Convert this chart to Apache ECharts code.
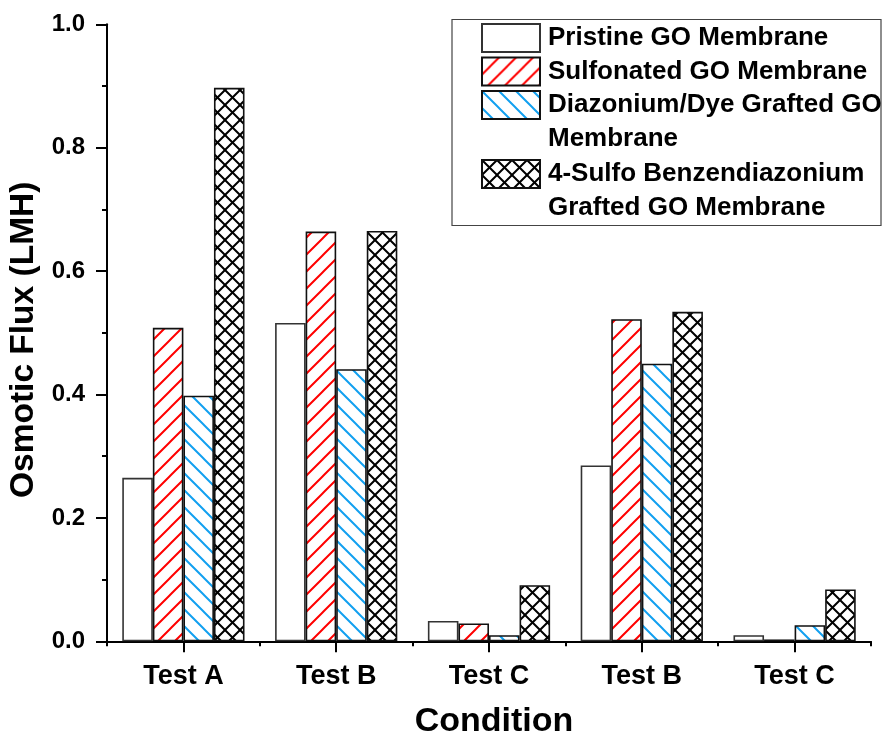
<!DOCTYPE html>
<html>
<head>
<meta charset="utf-8">
<script src="https://cdn.jsdelivr.net/npm/echarts@6/dist/echarts.min.js"></script>
<style>
html,body{margin:0;padding:0;background:#fff;}
#chart{width:882px;height:731px;}
</style>
</head>
<body>
<div id="chart"></div>
<script>
// ---- data ----
const categories = ['Test A', 'Test B', 'Test C', 'Test B', 'Test C'];
const seriesNames = ['Pristine GO Membrane', 'Sulfonated GO Membrane', 'Diazonium/Dye Grafted GO Membrane', '4-Sulfo Benzendiazonium Grafted GO Membrane'];
const legendLabels = ['Pristine GO Membrane', 'Sulfonated GO Membrane', 'Diazonium/Dye Grafted GO\nMembrane', '4-Sulfo Benzendiazonium\nGrafted GO Membrane'];
const pristine = [0.265, 0.516, 0.033, 0.285, 0.010];
const sulfonated = [0.508, 0.664, 0.029, 0.522, 0.003];
const diazoniumDye = [0.398, 0.441, 0.010, 0.450, 0.026];
const sulfoBenz = [0.897, 0.665, 0.091, 0.534, 0.084];

// ---- hatch patterns ----
function hatch(size, color, width, dirs) {
  const c = document.createElement('canvas');
  c.width = size; c.height = size;
  const ctx = c.getContext('2d');
  ctx.fillStyle = '#fff';
  ctx.fillRect(0, 0, size, size);
  ctx.strokeStyle = color;
  ctx.lineWidth = width;
  dirs.forEach(function (d) {
    ctx.beginPath();
    for (let k = -1; k <= 1; k++) {
      if (d === '/') {
        ctx.moveTo(-2 + k * size, size + 2);
        ctx.lineTo(size + 2 + k * size, -2);
      } else {
        ctx.moveTo(-2 + k * size, -2);
        ctx.lineTo(size + 2 + k * size, size + 2);
      }
    }
    ctx.stroke();
  });
  return { image: c, repeat: 'repeat' };
}
const redHatch = hatch(17, '#ff0000', 2, ['/']);
const blueHatch = hatch(17, '#12a0f0', 2, ['\\']);
const crossHatch = hatch(15, '#000000', 2, ['/', '\\']);

const FONT = 'Liberation Sans, Arial, sans-serif';
const chart = echarts.init(document.getElementById('chart'));

const fills = ['#ffffff', redHatch, blueHatch, crossHatch];
const borders = ['#333333', '#111111', '#111111', '#111111'];
const values = [pristine, sulfonated, diazoniumDye, sulfoBenz];

const legendCenters = [38, 71.5, 105, 174];
const legends = seriesNames.map(function (n, i) {
  const twoLine = legendLabels[i].indexOf('\n') >= 0;
  return {
    data: [n],
    left: 481,
    top: twoLine ? legendCenters[i] - 51 : legendCenters[i] - 17,
    orient: 'vertical',
    padding: 0,
    icon: 'rect',
    itemWidth: 58,
    itemHeight: 28,
    selectedMode: false,
    formatter: function () { return twoLine ? '\n' + legendLabels[i] : legendLabels[i]; },
    textStyle: {
      fontFamily: FONT, fontWeight: 'bold', fontSize: 26, color: '#000',
      lineHeight: 34,
      padding: [0, 0, 0, 3]
    }
  };
});

chart.setOption({
  animation: false,
  backgroundColor: '#fff',
  grid: { left: 107, right: 11, top: 24.3, bottom: 89.7, containLabel: false, outerBoundsMode: 'none' },
  legend: legends,
  graphic: [{
    type: 'rect',
    shape: { x: 452, y: 19.5, width: 429, height: 206 },
    style: { fill: 'none', stroke: '#444', lineWidth: 1.2 },
    z: -1
  }],
  xAxis: [{
    type: 'category',
    data: categories,
    boundaryGap: true,
    name: 'Condition',
    nameLocation: 'middle',
    nameGap: 63,
    nameTextStyle: { fontFamily: FONT, fontWeight: 'bold', fontSize: 34, color: '#000', padding: [0, 0, 0, 10] },
    axisLine: { show: true, lineStyle: { color: '#000', width: 2 } },
    axisTick: { show: true, length: 5, lineStyle: { color: '#000', width: 2 } },
    axisLabel: { fontFamily: FONT, fontWeight: 'bold', fontSize: 27, color: '#000', margin: 22 },
    splitLine: { show: false }
  }, {
    type: 'category',
    data: categories,
    position: 'bottom',
    boundaryGap: true,
    axisLine: { show: false },
    axisTick: { show: true, alignWithLabel: true, length: 11, lineStyle: { color: '#000', width: 2 } },
    axisLabel: { show: false },
    splitLine: { show: false }
  }],
  yAxis: {
    type: 'value',
    min: 0, max: 1, interval: 0.2,
    name: 'Osmotic Flux (LMH)',
    nameLocation: 'middle',
    nameGap: 59,
    nameTextStyle: { fontFamily: FONT, fontWeight: 'bold', fontSize: 33.5, color: '#000', padding: [0, 14, 0, 0] },
    axisLine: { show: true, lineStyle: { color: '#000', width: 2 } },
    axisTick: { show: true, length: 11, lineStyle: { color: '#000', width: 2 } },
    minorTick: { show: true, splitNumber: 2, length: 5, lineStyle: { color: '#000', width: 2 } },
    axisLabel: {
      fontFamily: FONT, fontWeight: 'bold', fontSize: 24, color: '#000', margin: 22,
      formatter: function (v) { return v.toFixed(1); }
    },
    splitLine: { show: false },
    minorSplitLine: { show: false }
  },
  series: seriesNames.map(function (n, i) {
    return {
      name: n,
      type: 'bar',
      xAxisIndex: 0,
      data: values[i],
      barGap: '0%',
      barCategoryGap: '20%',
      itemStyle: { color: fills[i], borderColor: borders[i], borderWidth: 1.6 },
      emphasis: { disabled: true }
    };
  })
});
</script>
</body>
</html>
